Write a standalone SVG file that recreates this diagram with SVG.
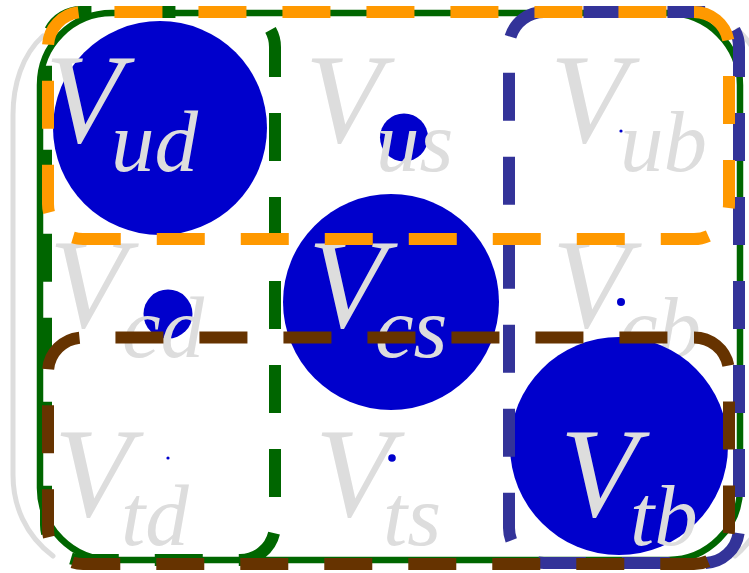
<svg xmlns="http://www.w3.org/2000/svg" width="749" height="573" viewBox="0 0 749 573">
<style>
.paren{fill:none;stroke:#dddddd;stroke-width:5;stroke-linecap:round}
.c{fill:#0000cc}
.t{fill:#dddddd;font-family:"Liberation Serif","Times New Roman",serif;font-style:italic}
.V{font-size:127px}
.s{font-size:87px}
.box{fill:none;stroke-width:12;stroke-dasharray:48 36}
</style>
<rect width="749" height="573" fill="#ffffff"/>
<g id="parens">
<path class="paren" d="M 43,36 C 22,55 13,85 13,115 L 13,475 C 13,505 25,535 53,556"/>
<path class="paren" d="M 738,30 C 760,50 770,85 770,115 L 770,475 C 770,505 760,535 735,556"/>
</g>
<g id="Vud"><circle class="c" cx="160" cy="128" r="107"/><text class="t"><tspan class="V" x="45" y="142">V</tspan><tspan class="s" x="111" y="171">ud</tspan></text></g>
<g id="Vus"><circle class="c" cx="404" cy="137.5" r="24"/><text class="t"><tspan class="V" x="305" y="142">V</tspan><tspan class="s" x="376" y="171">us</tspan></text></g>
<g id="Vub"><circle class="c" cx="621" cy="131" r="1.6"/><text class="t"><tspan class="V" x="550" y="142">V</tspan><tspan class="s" x="620" y="171">ub</tspan></text></g>
<g id="Vcd"><circle class="c" cx="168" cy="314" r="24.5"/><text class="t"><tspan class="V" x="49" y="327">V</tspan><tspan class="s" x="122" y="357">cd</tspan></text></g>
<g id="Vcs"><circle class="c" cx="391" cy="302" r="108"/><text class="t"><tspan class="V" x="308" y="327">V</tspan><tspan class="s" x="375" y="357">cs</tspan></text></g>
<g id="Vcb"><circle class="c" cx="621" cy="302" r="4"/><text class="t"><tspan class="V" x="552" y="327">V</tspan><tspan class="s" x="619" y="357">cb</tspan></text></g>
<g id="Vtd"><circle class="c" cx="168" cy="458" r="1.6"/><text class="t"><tspan class="V" x="54" y="516">V</tspan><tspan class="s" x="121" y="545">td</tspan></text></g>
<g id="Vts"><circle class="c" cx="392" cy="458" r="3.8"/><text class="t"><tspan class="V" x="315" y="516">V</tspan><tspan class="s" x="383" y="545">ts</tspan></text></g>
<g id="Vtb"><circle class="c" cx="619" cy="446" r="109"/><text class="t"><tspan class="V" x="560" y="516">V</tspan><tspan class="s" x="630" y="545">tb</tspan></text></g>
<g id="highlights">
<rect id="all" x="40" y="13" width="700" height="547" rx="72" fill="none" stroke="#006600" stroke-width="6.5"/>
<path id="col1" class="box" stroke="#006600" stroke-dashoffset="47" d="M 240,12 A 35 35 0 0 1 275,47 L 275,525 A 35 35 0 0 1 240,560 L 81,560 A 35 35 0 0 1 46,525 L 46,47 A 35 35 0 0 1 81,12 Z"/>
<path id="col3" class="box" stroke="#333399" stroke-dashoffset="47" d="M 704,12 A 35 35 0 0 1 739,47 L 739,528 A 35 35 0 0 1 704,563 L 544,563 A 35 35 0 0 1 509,528 L 509,47 A 35 35 0 0 1 544,12 Z"/>
<path id="row3" class="box" stroke="#663300" d="M 694,337.5 A 35 35 0 0 1 729,372.5 L 729,529 A 35 35 0 0 1 694,564 L 83,564 A 35 35 0 0 1 48,529 L 48,372.5 A 35 35 0 0 1 83,337.5 Z"/>
<path id="row1" class="box" stroke="#ff9900" d="M 694,12 A 35 35 0 0 1 729,47 L 729,204 A 35 35 0 0 1 694,239 L 83,239 A 35 35 0 0 1 48,204 L 48,47 A 35 35 0 0 1 83,12 Z"/>
</g>
</svg>
